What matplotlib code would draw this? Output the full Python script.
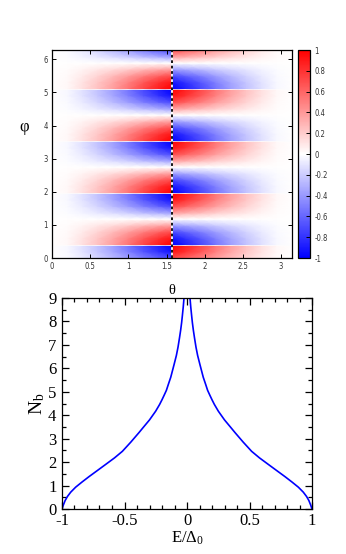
import numpy as np
import matplotlib.pyplot as plt
from matplotlib.ticker import MultipleLocator, FuncFormatter

plt.rcParams['axes.unicode_minus'] = False
plt.rcParams['mathtext.fontset'] = 'custom'
plt.rcParams['mathtext.rm'] = 'Liberation Serif'
plt.rcParams['mathtext.it'] = 'Liberation Serif:italic'

# ---- top map: amplitude along theta (left half, mirrored with sign flip)
theta_half = [0.0, 0.2, 0.4, 0.6, 0.8, 1.0, 1.2, 1.4, np.pi / 2]
amp_half = [0.0, 0.03, 0.12, 0.24, 0.38, 0.54, 0.72, 0.88, 1.0]

# one period along phi (length pi/2), starting at a sharp jump
psi = [0.0, 0.015, 0.2, 0.4, 0.6, 0.785, 0.97, 1.17, 1.37, 1.556, np.pi / 2]
psi_val = [0.0, 1.0, 0.92, 0.70, 0.36, 0.0, -0.36, -0.70, -0.92, -1.0, 0.0]
phi_jump0 = np.pi / 8

# ---- bottom curve N_b(E/Delta_0)
E = [-1.0, -0.99, -0.975, -0.957, -0.93, -0.891, -0.84, -0.784, -0.72, -0.651,
     -0.58, -0.517, -0.45, -0.384, -0.35, -0.30, -0.251, -0.219, -0.20, -0.184,
     -0.165, -0.149, -0.13, -0.104, -0.085, -0.072, -0.06, -0.051, -0.043,
     -0.037, -0.03, -0.024,
     0.024, 0.03, 0.037, 0.043, 0.051, 0.06, 0.072, 0.085, 0.104, 0.13, 0.149,
     0.165, 0.184, 0.20, 0.219, 0.251, 0.30, 0.35, 0.384, 0.45, 0.517, 0.58,
     0.651, 0.72, 0.784, 0.84, 0.891, 0.93, 0.957, 0.975, 0.99, 1.0]
Nb = [0.0, 0.16, 0.36, 0.53, 0.72, 0.93, 1.15, 1.38, 1.63, 1.90,
      2.18, 2.46, 2.85, 3.26, 3.48, 3.80, 4.17, 4.46, 4.66, 4.84,
      5.06, 5.32, 5.62, 6.15, 6.55, 6.90, 7.30, 7.62, 7.95,
      8.25, 8.62, 9.0,
      9.0, 8.62, 8.25, 7.95, 7.62, 7.30, 6.90, 6.55, 6.15, 5.62, 5.32,
      5.06, 4.84, 4.66, 4.46, 4.17, 3.80, 3.48, 3.26, 2.85, 2.46, 2.18,
      1.90, 1.63, 1.38, 1.15, 0.93, 0.72, 0.53, 0.36, 0.16, 0.0]

fig = plt.figure(figsize=(3.46, 5.54), dpi=100)

# build the map grid from the read profiles
th = np.concatenate([theta_half, np.pi - np.array(theta_half)[::-1]])
amp = np.concatenate([amp_half, -np.array(amp_half)[::-1]])
phi = np.concatenate([phi_jump0 + k * np.pi / 2 + np.array(psi) for k in range(-1, 4)])
pv = np.tile(psi_val, 5)
X, Y = np.meshgrid(th, phi)
C = np.outer(pv, amp)

ax = fig.add_axes([52 / 346, 1 - 258 / 554, 240 / 346, 208 / 554])
mesh = ax.pcolormesh(X, Y, C, cmap='bwr', vmin=-1, vmax=1, shading='gouraud')
ax.axvline(np.pi / 2, color='white', lw=1.3)
ax.axvline(np.pi / 2, color='black', lw=1.3, ls=(0, (1.5, 1.5)))
ax.set_xlim(0, np.pi)
ax.set_ylim(0, 2 * np.pi)
ax.set_xticks(np.arange(0, 3.01, 0.5))
ax.set_yticks(range(7))
ax.xaxis.set_major_formatter(FuncFormatter(lambda v, p: f'{v:g}'))
ax.tick_params(direction='in', length=3, width=0.7, top=True, right=True,
               labelsize=5.5, labelcolor='#333333', pad=3)
for lab in ax.get_xticklabels() + ax.get_yticklabels():
    lab.set_fontstretch('condensed')
for s in ax.spines.values():
    s.set_linewidth(0.9)
ax.set_xlabel('θ', family='Liberation Serif', fontsize=10.5)
ax.xaxis.set_label_coords(0.5, -0.125)
ax.text(-0.115, 0.63, 'φ', transform=ax.transAxes, family='Liberation Serif',
        fontsize=12, ha='center', va='center')

cax = fig.add_axes([298 / 346, 1 - 258 / 554, 12 / 346, 208 / 554])
cb = fig.colorbar(mesh, cax=cax, ticks=np.linspace(-1, 1, 11))
cb.ax.yaxis.set_major_formatter(FuncFormatter(lambda v, p: f'{round(v, 1) + 0.0:g}'))
cb.ax.tick_params(direction='in', length=3, width=0.7, labelsize=5.5,
                  labelcolor='#333333', pad=3)
for lab in cb.ax.get_yticklabels():
    lab.set_fontstretch('condensed')
cb.outline.set_linewidth(0.9)

# bottom panel
ax2 = fig.add_axes([62 / 346, 1 - 509 / 554, 250 / 346, 211 / 554])
ax2.plot(E, Nb, color='#0000ff', lw=1.2)
ax2.set_xlim(-1, 1)
ax2.set_ylim(0, 9)
ax2.xaxis.set_major_locator(MultipleLocator(0.5))
ax2.xaxis.set_minor_locator(MultipleLocator(0.1))
ax2.yaxis.set_major_locator(MultipleLocator(1))
ax2.yaxis.set_minor_locator(MultipleLocator(0.5))
ax2.xaxis.set_major_formatter(FuncFormatter(lambda v, p: f'{v + 0.0:g}'))
ax2.tick_params(which='both', direction='in', top=True, right=True, width=0.9)
ax2.tick_params(which='major', length=5, labelsize=12)
ax2.tick_params(axis='x', which='major', pad=3)
ax2.tick_params(axis='y', which='major', pad=4)
ax2.tick_params(which='minor', length=3)
for lab in ax2.get_xticklabels() + ax2.get_yticklabels():
    lab.set_family('Liberation Serif')
for s in ax2.spines.values():
    s.set_linewidth(0.9)
ax2.set_xlabel(r'E/Δ$_\mathrm{0}$', family='Liberation Serif', fontsize=12, labelpad=0)
ax2.set_ylabel(r'N$_\mathrm{b}$', family='Liberation Serif', fontsize=14, labelpad=1)

plt.savefig('out.png', dpi=100)
